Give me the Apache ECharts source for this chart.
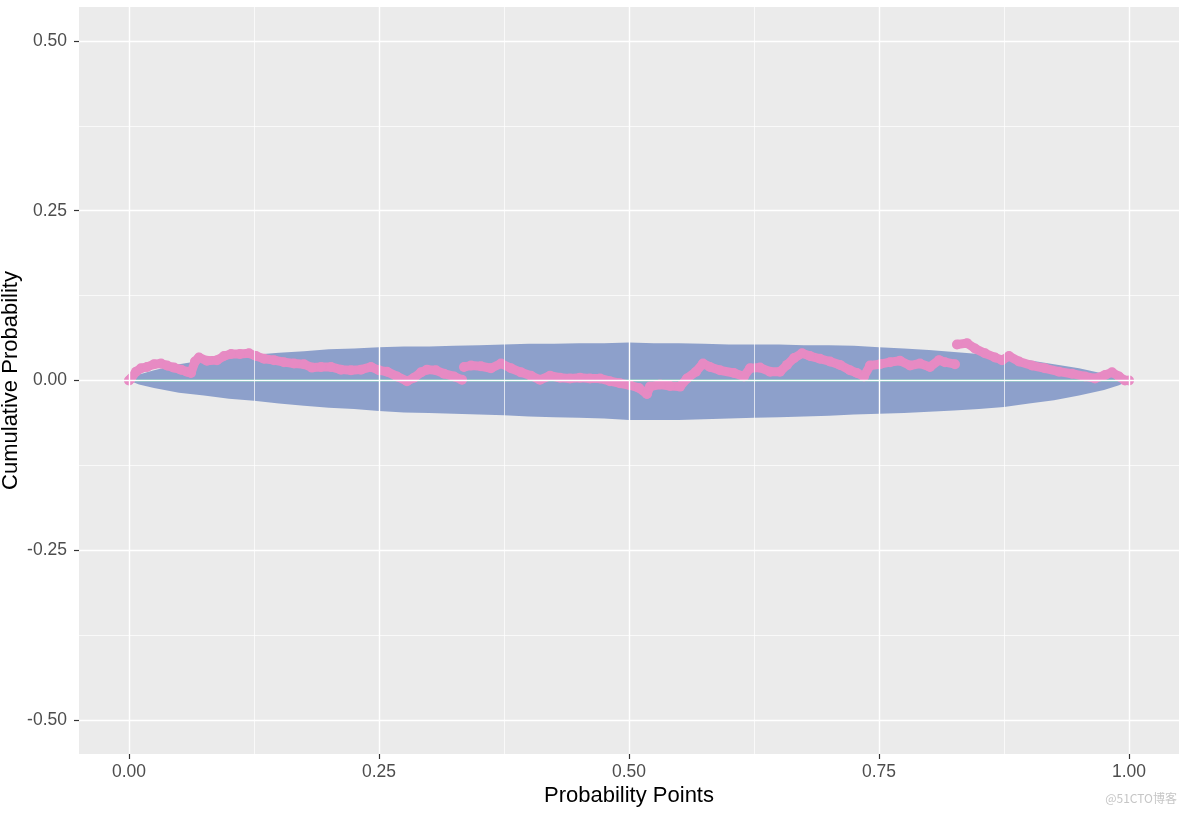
<!DOCTYPE html>
<html>
<head>
<meta charset="utf-8">
<script src="https://cdn.jsdelivr.net/npm/echarts@6/dist/echarts.min.js"></script>
<style>
html,body{margin:0;padding:0;background:#fff;}
#chart{width:1184px;height:814px;}
</style>
</head>
<body>
<div id="chart"></div>
<script>
// ---- data ----
const xTicks = [0, 0.25, 0.5, 0.75, 1];
const yTicks = [-0.5, -0.25, 0, 0.25, 0.5];
const xMinor = [0.125, 0.375, 0.625, 0.875];
const yMinor = [-0.375, -0.125, 0.125, 0.375];

const bandX = [0, 0.01, 0.025, 0.05, 0.075, 0.1, 0.125, 0.15, 0.175, 0.2, 0.225, 0.25, 0.275, 0.3, 0.325, 0.35, 0.375, 0.4, 0.425, 0.45, 0.475, 0.5, 0.525, 0.55, 0.575, 0.6, 0.625, 0.65, 0.675, 0.7, 0.725, 0.75, 0.775, 0.8, 0.825, 0.85, 0.875, 0.9, 0.925, 0.95, 0.975, 0.99, 1.0];
const bandUpper = [0, 0.009, 0.015, 0.024, 0.030, 0.035, 0.038, 0.041, 0.043, 0.046, 0.047, 0.049, 0.050, 0.050, 0.051, 0.052, 0.053, 0.054, 0.054, 0.055, 0.055, 0.056, 0.055, 0.055, 0.054, 0.053, 0.053, 0.053, 0.052, 0.052, 0.051, 0.049, 0.047, 0.045, 0.042, 0.039, 0.035, 0.030, 0.024, 0.018, 0.010, 0.005, 0];
const bandLower = [0, -0.006, -0.011, -0.018, -0.022, -0.027, -0.030, -0.034, -0.037, -0.040, -0.042, -0.045, -0.047, -0.048, -0.049, -0.050, -0.051, -0.053, -0.054, -0.055, -0.056, -0.058, -0.058, -0.058, -0.057, -0.056, -0.055, -0.054, -0.053, -0.052, -0.050, -0.049, -0.048, -0.046, -0.044, -0.042, -0.039, -0.034, -0.029, -0.022, -0.014, -0.007, 0];

const refX = [0, 1];
const refY = [0, 0];

const pinkX = [0, 0.002, 0.007, 0.012, 0.018, 0.025, 0.032, 0.038, 0.045, 0.052, 0.058, 0.062, 0.066, 0.070, 0.078, 0.088, 0.095, 0.102, 0.111, 0.120, 0.127, 0.135, 0.145, 0.155, 0.165, 0.175, 0.183, 0.192, 0.202, 0.212, 0.222, 0.232, 0.242, 0.250, 0.258, 0.268, 0.278, 0.285, 0.292, 0.298, 0.307, 0.315, 0.325, 0.333, null,
  0.335, 0.342, 0.352, 0.362, 0.372, 0.382, 0.392, 0.402, 0.411, 0.421, 0.431, 0.441, 0.451, 0.461, 0.471, 0.481, 0.491, 0.501, 0.510, 0.518, 0.521, 0.531, 0.541, 0.551, 0.558, 0.567, 0.574, 0.581, 0.591, 0.605, 0.615, 0.621, 0.631, 0.641, 0.651, 0.658, 0.665, 0.673, 0.681, 0.691, 0.701, 0.711, 0.721, 0.728, 0.735, 0.741, 0.751, 0.761, 0.771, 0.781, 0.791, 0.801, 0.810, 0.816, 0.826, null,
  0.828, 0.838, 0.846, 0.856, 0.866, 0.873, 0.880, 0.890, 0.903, 0.916, 0.930, 0.943, 0.956, 0.966, 0.976, 0.983, 0.990, 0.996, 1.0];
const pinkY = [0, 0.003, 0.013, 0.018, 0.020, 0.024, 0.025, 0.022, 0.019, 0.016, 0.013, 0.011, 0.028, 0.034, 0.029, 0.030, 0.036, 0.039, 0.039, 0.040, 0.036, 0.032, 0.030, 0.027, 0.025, 0.024, 0.019, 0.020, 0.020, 0.016, 0.015, 0.016, 0.020, 0.015, 0.013, 0.006, -0.001, 0.004, 0.012, 0.016, 0.015, 0.010, 0.006, 0.001, null,
  0.020, 0.022, 0.021, 0.018, 0.025, 0.018, 0.012, 0.007, 0.001, 0.007, 0.004, 0.003, 0.004, 0.003, 0.003, -0.001, -0.004, -0.007, -0.011, -0.020, -0.009, -0.006, -0.008, -0.009, 0.003, 0.013, 0.025, 0.020, 0.015, 0.011, 0.006, 0.018, 0.019, 0.013, 0.013, 0.023, 0.033, 0.040, 0.036, 0.032, 0.028, 0.023, 0.015, 0.011, 0.006, 0.022, 0.024, 0.027, 0.029, 0.022, 0.025, 0.020, 0.030, 0.027, 0.024, null,
  0.053, 0.055, 0.047, 0.040, 0.034, 0.030, 0.036, 0.028, 0.022, 0.018, 0.013, 0.010, 0.006, 0.003, 0.008, 0.012, 0.006, 0.000, 0.000];

const xTitle = 'Probability Points';
const yTitle = 'Cumulative Probability';
// ---- end data ----

const pair = (xs, ys) => xs.map((x, i) => (x === null || ys[i] === null) ? ['-', '-'] : [x, ys[i]]);

const BAND = '#8DA0CB', PINK = '#E78AC3', GREEN = '#66C2A5';
const FONT = '"Liberation Sans", Arial, Helvetica, sans-serif';

const gridLines = [];
xTicks.forEach(v => gridLines.push({ xAxis: v, lineStyle: { width: 1.4 } }));
yTicks.forEach(v => gridLines.push({ yAxis: v, lineStyle: { width: 1.4 } }));
xMinor.forEach(v => gridLines.push({ xAxis: v, lineStyle: { width: 0.7 } }));
yMinor.forEach(v => gridLines.push({ yAxis: v, lineStyle: { width: 0.7 } }));

const chart = echarts.init(document.getElementById('chart'), null, { renderer: 'canvas' });
chart.setOption({
  animation: false,
  backgroundColor: '#ffffff',
  textStyle: { fontFamily: FONT },
  grid: { left: 79, top: 7, width: 1100, height: 747, show: true, backgroundColor: '#EBEBEB', borderWidth: 0, containLabel: false, outerBoundsMode: 'none' },
  xAxis: {
    type: 'value', min: -0.05, max: 1.05,
    axisLine: { show: false, onZero: false },
    axisTick: { show: true, length: 5, customValues: xTicks, lineStyle: { color: '#333333', width: 1.2 } },
    axisLabel: { customValues: xTicks, margin: 9, color: '#4D4D4D', fontSize: 17.5, fontFamily: FONT, formatter: v => v.toFixed(2) },
    splitLine: { show: false },
    name: xTitle, nameLocation: 'middle', nameGap: 31, nameMoveOverlap: false,
    nameTextStyle: { color: '#000', fontSize: 22, fontFamily: FONT }
  },
  yAxis: {
    type: 'value', min: -0.55, max: 0.55,
    axisLine: { show: false, onZero: false },
    axisTick: { show: true, length: 5, customValues: yTicks, lineStyle: { color: '#333333', width: 1.2 } },
    axisLabel: { customValues: yTicks, margin: 12, color: '#4D4D4D', fontSize: 17.5, fontFamily: FONT, formatter: v => v.toFixed(2) },
    splitLine: { show: false },
    name: yTitle, nameLocation: 'middle', nameGap: 57, nameMoveOverlap: false,
    nameTextStyle: { color: '#000', fontSize: 22, fontFamily: FONT }
  },
  series: [
    {
      type: 'line', z: 1, silent: true, data: [], symbol: 'none',
      markLine: { silent: true, precision: 6, symbol: ['none', 'none'], label: { show: false }, lineStyle: { color: '#ffffff', type: 'solid' }, emphasis: { disabled: true }, data: gridLines }
    },
    {
      type: 'line', z: 2, silent: true, symbol: 'none', data: pair(bandX, bandUpper),
      lineStyle: { width: 0 }, areaStyle: { color: BAND, opacity: 1 }
    },
    {
      type: 'line', z: 2, silent: true, symbol: 'none', data: pair(bandX, bandLower),
      lineStyle: { width: 0 }, areaStyle: { color: BAND, opacity: 1 }
    },
    {
      type: 'line', z: 3, silent: true, symbol: 'none', data: pair(refX, refY),
      lineStyle: { color: GREEN, width: 2 }
    },
    {
      type: 'line', z: 4, silent: true, connectNulls: false,
      data: pair(pinkX, pinkY),
      symbol: 'circle', symbolSize: 10, showSymbol: true,
      itemStyle: { color: PINK, borderWidth: 0 },
      lineStyle: { color: PINK, width: 9, cap: 'round', join: 'round' }
    }
  ],
  graphic: [
    { type: 'text', right: 7, top: 792, style: { text: '@51CTO博客', fill: '#c6c6c6', fontSize: 12, fontFamily: '"Noto Sans CJK SC", sans-serif' } }
  ]
});
</script>
</body>
</html>
